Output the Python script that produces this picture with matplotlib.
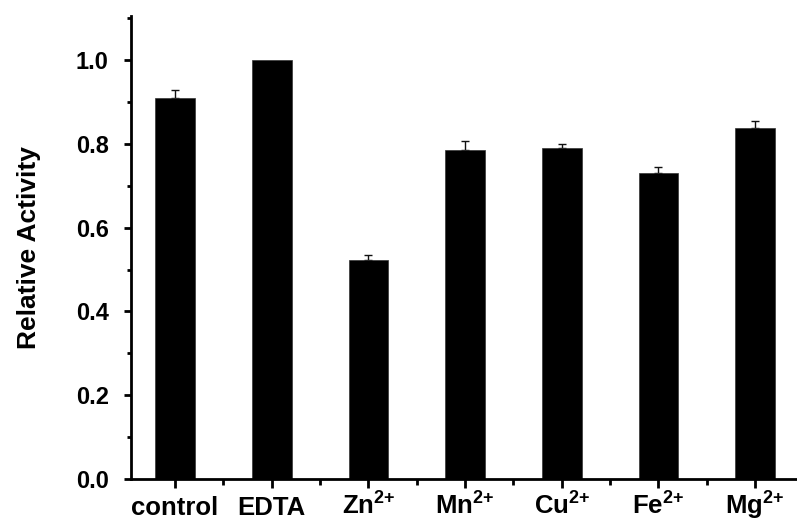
#!/usr/bin/env python3.12
"""Relative activity of the enzyme with metal ions / EDTA (bar chart)."""

import matplotlib
matplotlib.use("Agg")
import matplotlib.pyplot as plt
import numpy as np
from matplotlib.ticker import FixedLocator, MultipleLocator

CATEGORIES = ["control", "EDTA", r"Zn$^{\text{2+}}$", r"Mn$^{\text{2+}}$",
              r"Cu$^{\text{2+}}$", r"Fe$^{\text{2+}}$", r"Mg$^{\text{2+}}$"]
ACTIVITY = [0.909, 1.0, 0.524, 0.786, 0.791, 0.731, 0.837]
ERR_UP = [0.019, 0.0, 0.010, 0.021, 0.008, 0.013, 0.018]
Y_TICKS = [0.0, 0.2, 0.4, 0.6, 0.8, 1.0]


def main() -> None:
    plt.rcParams["font.family"] = ["Liberation Sans", "DejaVu Sans"]
    plt.rcParams["font.weight"] = "bold"
    plt.rcParams["mathtext.fontset"] = "custom"
    plt.rcParams["mathtext.rm"] = "Liberation Sans:bold"
    plt.rcParams["mathtext.it"] = "Liberation Sans:bold"
    plt.rcParams["mathtext.bf"] = "Liberation Sans:bold"

    fig = plt.figure(figsize=(7.97, 5.24), dpi=100, facecolor="white")
    ax = fig.add_axes([0.1644, 0.0859, 0.8436, 0.8831])

    x = np.arange(len(CATEGORIES))
    ax.bar(x, ACTIVITY, width=0.41, color="black", edgecolor="#333333", linewidth=0.5, zorder=2)
    yerr = np.vstack([np.zeros(len(ERR_UP)), ERR_UP])
    has_err = np.array(ERR_UP) > 0
    ax.errorbar(x[has_err], np.array(ACTIVITY)[has_err], yerr=yerr[:, has_err],
                fmt="none", ecolor="#111111", elinewidth=1.0, capsize=3, capthick=1.0, zorder=1)

    ax.set_xlim(-0.455, 6.5)
    ax.set_ylim(0, 1.105)

    for side in ("top", "right"):
        ax.spines[side].set_visible(False)
    for side in ("left", "bottom"):
        ax.spines[side].set_linewidth(2)

    ax.set_yticks(Y_TICKS)
    ax.set_yticklabels([f"{v:.1f}" for v in Y_TICKS])
    ax.yaxis.set_minor_locator(MultipleLocator(0.1))
    ax.set_xticks(x)
    ax.set_xticklabels(CATEGORIES)
    ax.xaxis.set_minor_locator(FixedLocator(x[:-1] + 0.5))

    ax.tick_params(axis="y", which="major", length=5, width=2, pad=11, labelsize=17)
    ax.tick_params(axis="y", which="minor", length=3, width=2)
    ax.tick_params(axis="x", which="major", length=6.5, width=2, pad=19.5, labelsize=18.5)
    ax.tick_params(axis="x", which="minor", length=4, width=2)
    # baseline alignment keeps "control" and "Zn2+" on the same line
    for lab in ax.get_xticklabels():
        lab.set_verticalalignment("baseline")

    ax.set_ylabel("Relative Activity", fontsize=19, fontweight="bold")
    ax.yaxis.set_label_coords(-0.134, 0.5)

    fig.savefig("out.png", dpi=100, facecolor="white")


if __name__ == "__main__":
    main()
